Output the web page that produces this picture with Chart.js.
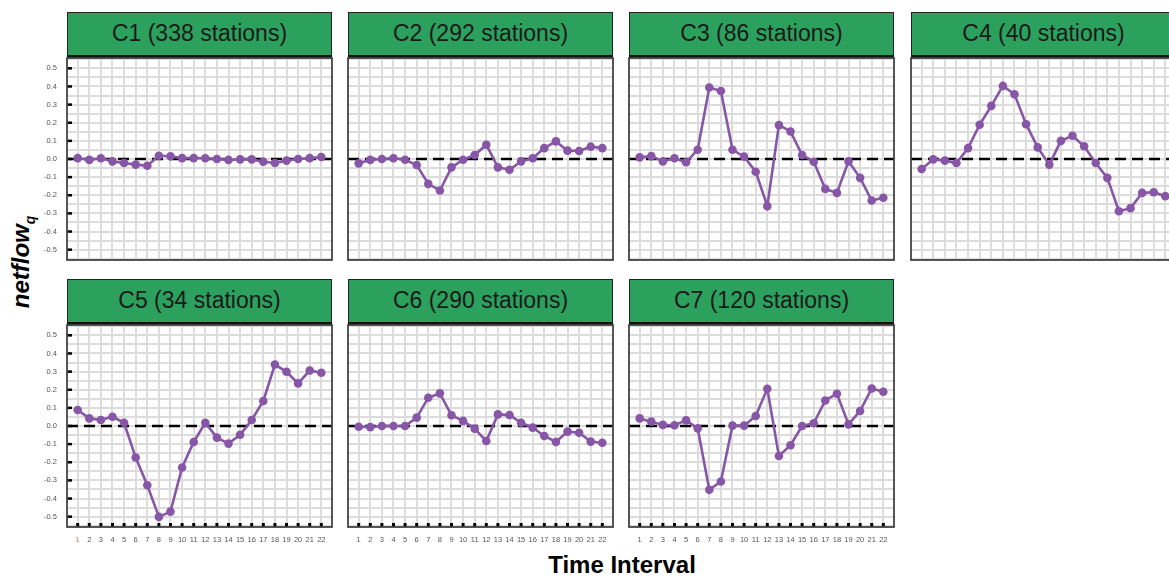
<!DOCTYPE html>
<html>
<head>
<meta charset="utf-8">
<script src="https://cdn.jsdelivr.net/npm/chart.js"></script>
<style>
  body {
    margin: 0;
    background: #fff;
    width: 1169px;
    height: 578px;
    overflow: hidden;
    position: relative;
    font-family: "Liberation Sans", Arial, sans-serif;
  }
  canvas { position: absolute; }
  .strip {
    position: absolute;
    box-sizing: border-box;
    background: #2ca05d;
    border: 1.5px solid #222;
    border-bottom: 3px solid #111;
    color: #1a1a1a;
    font-size: 23px;
    text-align: center;
  }
  #xtitle {
    position: absolute;
    left: 472px;
    width: 300px;
    top: 551px;
    line-height: 28px;
    text-align: center;
    font-weight: bold;
    font-size: 24px;
    color: #000;
  }
  #ytitle {
    position: absolute;
    left: -39px;
    top: 247px;
    width: 120px;
    height: 30px;
    line-height: 30px;
    text-align: center;
    font-weight: bold;
    font-style: italic;
    font-size: 24px;
    color: #000;
    transform: rotate(-90deg);
  }
  #ytitle sub { font-size: 14px; }
</style>
</head>
<body>
<div id="xtitle">Time Interval</div>
<div id="ytitle">netflow<sub>q</sub></div>

<script>
// time intervals on the x axis
const timeIntervals = [1, 2, 3, 4, 5, 6, 7, 8, 9, 10, 11, 12, 13, 14, 15, 16, 17, 18, 19, 20, 21, 22];

// horizontal grid lines (every 0.05) and labelled ticks (every 0.1)
const yGridValues = [-0.55, -0.5, -0.45, -0.4, -0.35, -0.3, -0.25, -0.2, -0.15, -0.1, -0.05, 0,
                     0.05, 0.1, 0.15, 0.2, 0.25, 0.3, 0.35, 0.4, 0.45, 0.5, 0.55];
const yTickValues = [-0.5, -0.4, -0.3, -0.2, -0.1, 0, 0.1, 0.2, 0.3, 0.4, 0.5];

const clusterNames = ['C1', 'C2', 'C3', 'C4', 'C5', 'C6', 'C7'];
const stationCounts = [338, 292, 86, 40, 34, 290, 120];

// netflow_q per cluster
const c1Netflow = [0.005, -0.005, 0.004, -0.013, -0.022, -0.031, -0.037, 0.018, 0.015, 0.005, 0.005,
                   0.004, 0.0, -0.005, -0.002, -0.002, -0.015, -0.022, -0.009, 0.0, 0.005, 0.011];
const c2Netflow = [-0.024, -0.005, 0.0, 0.004, -0.004, -0.033, -0.137, -0.174, -0.046, -0.004, 0.022,
                   0.079, -0.046, -0.059, -0.013, 0.004, 0.06, 0.097, 0.046, 0.044, 0.068, 0.06];
const c3Netflow = [0.009, 0.016, -0.013, 0.004, -0.018, 0.051, 0.394, 0.375, 0.051, 0.013, -0.07,
                   -0.26, 0.187, 0.152, 0.022, -0.015, -0.165, -0.187, -0.013, -0.104, -0.229, -0.214];
const c4Netflow = [-0.055, -0.002, -0.009, -0.022, 0.06, 0.189, 0.293, 0.403, 0.357, 0.192, 0.064,
                   -0.031, 0.1, 0.128, 0.07, -0.022, -0.104, -0.288, -0.271, -0.187, -0.183, -0.205];
const c5Netflow = [0.088, 0.042, 0.033, 0.051, 0.018, -0.174, -0.327, -0.501, -0.472, -0.229, -0.088,
                   0.018, -0.064, -0.097, -0.048, 0.033, 0.138, 0.339, 0.299, 0.235, 0.306, 0.294];
const c6Netflow = [-0.004, -0.006, 0.0, 0.0, 0.0, 0.046, 0.156, 0.18, 0.059, 0.028, -0.015,
                   -0.083, 0.064, 0.061, 0.018, -0.009, -0.055, -0.088, -0.031, -0.037, -0.086, -0.092];
const c7Netflow = [0.042, 0.024, 0.006, 0.004, 0.031, -0.013, -0.352, -0.306, 0.002, 0.002, 0.055,
                   0.205, -0.165, -0.106, 0.0, 0.015, 0.141, 0.178, 0.009, 0.083, 0.207, 0.189];
const clusterValues = [c1Netflow, c2Netflow, c3Netflow, c4Netflow, c5Netflow, c6Netflow, c7Netflow];

// panel layout
const colLeft = [67, 348, 629, 911];
const rowTop = [58, 325];      // top of plot area
const plotW = 265;
const plotH = 202;
const stripH = 46;
const padTop = 3;
const padRight = 3;

const lineColor = '#8856a7';
const gridColor = '#dcdcdc';
const labelColor = '#555';
const fontFamily = '"Liberation Sans", Arial, sans-serif';

// keep the plot area fixed: no extra room for label overhang
function clearPadding(s) {
  s.paddingTop = 0;
  s.paddingBottom = 0;
  s.paddingLeft = 0;
  s.paddingRight = 0;
}

// zero line, frame and inner tick marks
const panelDecor = {
  id: 'panelDecor',
  beforeDatasetsDraw(chart) {
    const { ctx, chartArea } = chart;
    const y0 = chart.scales.y.getPixelForValue(0);
    ctx.save();
    ctx.strokeStyle = '#000';
    ctx.lineWidth = 2.5;
    ctx.setLineDash([11, 6]);
    ctx.beginPath();
    ctx.moveTo(chartArea.left, y0);
    ctx.lineTo(chartArea.right, y0);
    ctx.stroke();
    ctx.restore();
  },
  afterDraw(chart, args, opts) {
    const { ctx, chartArea } = chart;
    ctx.save();
    ctx.strokeStyle = '#000';
    ctx.lineWidth = 2.5;
    if (opts.showY) {
      yTickValues.forEach(v => {
        const y = chart.scales.y.getPixelForValue(v);
        ctx.beginPath();
        ctx.moveTo(chartArea.left, y);
        ctx.lineTo(chartArea.left + 5, y);
        ctx.stroke();
      });
    }
    if (opts.showX) {
      ctx.lineWidth = 3;
      timeIntervals.forEach(v => {
        const x = chart.scales.x.getPixelForValue(v);
        ctx.beginPath();
        ctx.moveTo(x, chartArea.bottom - 4);
        ctx.lineTo(x, chartArea.bottom);
        ctx.stroke();
      });
    }
    ctx.strokeStyle = '#444';
    ctx.lineWidth = 1.8;
    ctx.strokeRect(chartArea.left, chartArea.top, chartArea.right - chartArea.left, chartArea.bottom - chartArea.top);
    ctx.restore();
  }
};

clusterNames.forEach((name, i) => {
  const row = i < 4 ? 0 : 1;
  const col = i % 4;
  const showY = col === 0;
  const showX = row === 1;
  const yW = showY ? 50 : 3;
  const xH = showX ? 30 : 3;
  const left = colLeft[col];
  const top = rowTop[row];

  const strip = document.createElement('div');
  strip.className = 'strip';
  strip.style.left = left + 'px';
  strip.style.top = (top - stripH) + 'px';
  strip.style.width = plotW + 'px';
  strip.style.height = stripH + 'px';
  strip.style.lineHeight = (stripH - 4.5) + 'px';
  strip.textContent = name + ' (' + stationCounts[i] + ' stations)';
  document.body.appendChild(strip);

  const canvas = document.createElement('canvas');
  canvas.width = yW + plotW + padRight;
  canvas.height = padTop + plotH + xH;
  canvas.style.left = (left - yW) + 'px';
  canvas.style.top = (top - padTop) + 'px';
  document.body.appendChild(canvas);

  const values = clusterValues[i];

  new Chart(canvas.getContext('2d'), {
    type: 'line',
    data: {
      datasets: [{
        data: values.map((v, k) => ({ x: timeIntervals[k], y: v })),
        borderColor: lineColor,
        backgroundColor: lineColor,
        borderWidth: 2.6,
        pointRadius: 4.3,
        pointBorderWidth: 0,
        pointBackgroundColor: lineColor,
        tension: 0
      }]
    },
    options: {
      responsive: false,
      animation: false,
      layout: { autoPadding: false, padding: { top: padTop, right: padRight, left: 0, bottom: 0 } },
      plugins: {
        legend: { display: false },
        tooltip: { enabled: false },
        panelDecor: { showX: showX, showY: showY }
      },
      scales: {
        x: {
          type: 'linear',
          min: 0.08,
          max: 22.92,
          afterBuildTicks: s => { s.ticks = timeIntervals.map(v => ({ value: v })); },
          afterFit: s => { s.height = xH; clearPadding(s); },
          border: { display: false },
          grid: { color: gridColor, lineWidth: 2, drawTicks: false },
          ticks: {
            display: showX,
            autoSkip: false,
            maxRotation: 0,
            padding: 8.5,
            font: { size: 7.5, family: fontFamily },
            color: ctx => (name === 'C5' && ctx.index === 0) ? '#c8783c' : labelColor,
            callback: v => String(v)
          }
        },
        y: {
          type: 'linear',
          min: -0.557,
          max: 0.557,
          afterBuildTicks: s => { s.ticks = yGridValues.map(v => ({ value: v })); },
          afterFit: s => { s.width = yW; clearPadding(s); },
          border: { display: false },
          grid: { color: gridColor, lineWidth: 2, drawTicks: false },
          ticks: {
            display: showY,
            autoSkip: false,
            padding: 10,
            font: { size: 7.5, family: fontFamily },
            color: labelColor,
            callback: v => yTickValues.some(t => Math.abs(t - v) < 1e-6) ? v.toFixed(1) : ''
          }
        }
      }
    },
    plugins: [panelDecor]
  });
});
</script>
</body>
</html>
